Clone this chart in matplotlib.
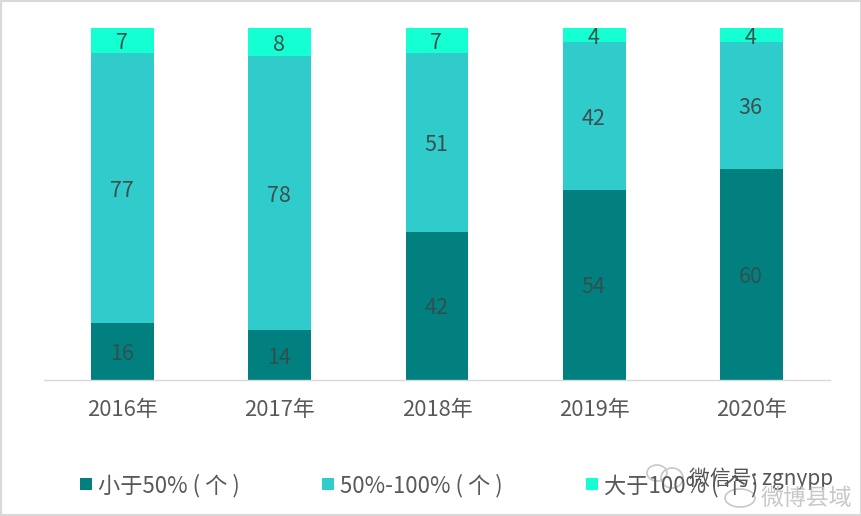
"""Stacked share of counties by year"""

import matplotlib
matplotlib.use("Agg")
import matplotlib.pyplot as plt
from matplotlib.patches import Rectangle, Ellipse

plt.rcParams['font.family'] = ['Noto Sans CJK SC', 'DejaVu Sans']

YEARS = ["2016年", "2017年", "2018年", "2019年", "2020年"]
BELOW_50 = [16, 14, 42, 54, 60]
MID_50_100 = [77, 78, 51, 42, 36]
ABOVE_100 = [7, 8, 7, 4, 4]
SERIES_NAMES = ["小于50% ( 个 )", "50%-100% ( 个 )", "大于100% ( 个 )"]
COLORS = ["#028080", "#30CCCC", "#14FFD2"]

W, H = 862, 516

fig = plt.figure(figsize=(W / 100, H / 100), dpi=100)
ax = fig.add_axes([44 / W, 1 - 379.5 / H, 786 / W, 351.5 / H])

x = range(len(YEARS))
bottom = [0] * len(YEARS)
for vals, color, name in zip([BELOW_50, MID_50_100, ABOVE_100], COLORS, SERIES_NAMES):
    ax.bar(x, vals, width=0.4, bottom=bottom, color=color, label=name)
    for i, v in enumerate(vals):
        ax.annotate(str(v), (i, bottom[i] + v / 2), xytext=(-0.5, -2), textcoords="offset points",
                    ha="center", va="center", fontsize=15.5, color="#404040",
                    alpha=0.9 if color != COLORS[0] else 0.75)
    bottom = [p + v for p, v in zip(bottom, vals)]

ax.set_xlim(-0.5, 4.5)
ax.set_ylim(0, 100)
ax.set_yticks([])
ax.set_xticks(list(x))
ax.set_xticklabels(YEARS, fontsize=15.8, color="#595959")
ax.tick_params(axis="x", length=0, pad=14)
for side in ["top", "left", "right"]:
    ax.spines[side].set_visible(False)
ax.spines["bottom"].set_color("#D9D9D9")
ax.spines["bottom"].set_linewidth(1)

# legend placed by hand, the gaps are uneven in the original
for px, color, name in zip([80, 322, 586], COLORS, SERIES_NAMES):
    fig.add_artist(Rectangle((px / W, 1 - 490 / H), 12 / W, 12 / H, color=color,
                             transform=fig.transFigure, lw=0))
    fig.text((px + 18) / W, 1 - 486 / H, name, fontsize=16, color="#595959",
             ha="left", va="center")

# watermark over the legend
fig.text(689 / W, 1 - 479 / H, "微信号: zgnypp", fontsize=15, color="#555555",
         ha="left", va="center")
fig.text(761 / W, 1 - 498 / H, "微博县域", fontsize=16.5, color="#C8C8C8",
         ha="left", va="center")
for cx, cy, rx, ry in [(657, 473, 10, 8), (672, 478, 11, 10), (740, 498, 15, 9)]:
    fig.add_artist(Ellipse((cx / W, 1 - cy / H), 2 * rx / W, 2 * ry / H, fill=False,
                           edgecolor="#C8C8C8", lw=1.2, transform=fig.transFigure))

# thin grey frame of the screenshot
fig.add_artist(Rectangle((0, 0), 1, 1, fill=False, edgecolor="#D9D9D9", lw=3,
                         transform=fig.transFigure))

fig.savefig("out.png", dpi=100)
